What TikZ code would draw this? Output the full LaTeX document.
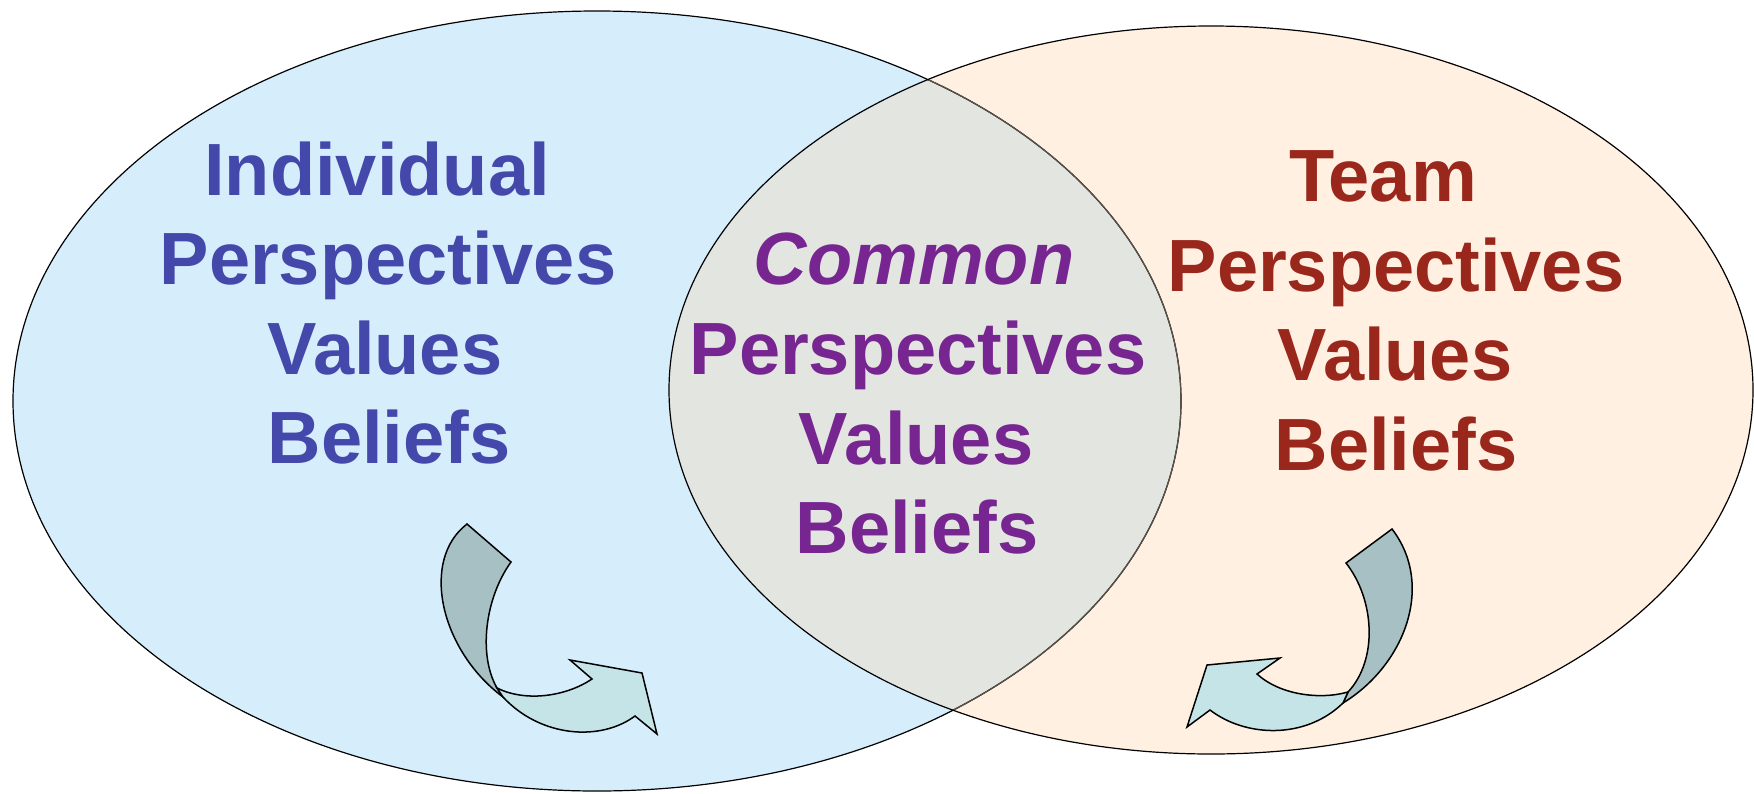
\documentclass[tikz,border=0pt]{standalone}
\usepackage{fontspec}
\setmainfont{Liberation Sans}
\definecolor{leftfill}{RGB}{214,238,252}
\definecolor{rightfill}{RGB}{255,240,226}
\definecolor{midfill}{RGB}{227,229,225}
\definecolor{dimline}{RGB}{90,82,72}
\definecolor{bluetext}{RGB}{68,72,170}
\definecolor{purpletext}{RGB}{119,37,144}
\definecolor{redtext}{RGB}{154,39,28}
\definecolor{arrowdark}{RGB}{167,192,196}
\definecolor{arrowlight}{RGB}{197,228,232}
\begin{document}
\begin{tikzpicture}[x=1pt,y=-1pt,
  lbl/.style={anchor=base,inner sep=0pt,font=\fontsize{74}{89}\selectfont\bfseries},
  ring/.style={draw=black,line width=1.2pt},
  arrowback/.style={draw=black,line width=1.5pt,fill=arrowdark,line join=miter},
  arrowfront/.style={draw=black,line width=1.5pt,fill=arrowlight,line join=miter}]
\useasboundingbox (0,0) rectangle (1754,793);
\fill[white] (0,0) rectangle (1754,793);
% ellipses
\fill[leftfill] (597,401) ellipse [x radius=584pt, y radius=390pt];
\fill[rightfill] (1211,390) ellipse [x radius=542pt, y radius=364pt];
\begin{scope}
  \clip (597,401) ellipse [x radius=584pt, y radius=390pt];
  \fill[midfill] (1211,390) ellipse [x radius=542pt, y radius=364pt];
\end{scope}
\draw[ring] (597,401) ellipse [x radius=584pt, y radius=390pt];
\begin{scope}
  \clip (1211,390) ellipse [x radius=542pt, y radius=364pt];
  \draw[ring,draw=dimline] (597,401) ellipse [x radius=584pt, y radius=390pt];
\end{scope}
\draw[ring] (1211,390) ellipse [x radius=542pt, y radius=364pt];
% left texts
\node[lbl,text=bluetext] (l1) at (377,195) {Individual};
\node[lbl,text=bluetext] (l2) at (388,284) {Perspectives};
\node[lbl,text=bluetext] (l3) at (385,374) {Values};
\node[lbl,text=bluetext] (l4) at (389,463) {Beliefs};
% middle texts
\node[lbl,text=purpletext] (m1) at (914,284) {\itshape Common};
\node[lbl,text=purpletext] (m2) at (918,374) {Perspectives};
\node[lbl,text=purpletext] (m3) at (916,464) {Values};
\node[lbl,text=purpletext] (m4) at (917,553) {Beliefs};
% right texts
\node[lbl,text=redtext] (r1) at (1383,201) {Team};
\node[lbl,text=redtext] (r2) at (1396,291) {Perspectives};
\node[lbl,text=redtext] (r3) at (1395,380) {Values};
\node[lbl,text=redtext] (r4) at (1396,470) {Beliefs};
% left curved arrow
\draw[arrowback] (467,524) -- (511,562) .. controls (485,598) and (478,655) .. (497,688)
  -- (503,697) .. controls (440,650) and (420,560) .. (467,524) -- cycle;
\draw[arrowfront] (497,688) .. controls (525,702) and (565,697) .. (592,679)
  -- (570,660) -- (642,673) -- (657,734) -- (635,716)
  .. controls (600,742) and (540,737) .. (503,697) -- cycle;
% right curved arrow
\draw[arrowback] (1392,529) -- (1346,563) .. controls (1375,600) and (1378,660) .. (1348,692)
  -- (1343,703) .. controls (1405,665) and (1435,585) .. (1392,529) -- cycle;
\draw[arrowfront] (1348,692) .. controls (1320,700) and (1280,695) .. (1257,674)
  -- (1280,658) -- (1207,665) -- (1187,727) -- (1210,710)
  .. controls (1245,737) and (1305,740) .. (1343,703) -- cycle;
\end{tikzpicture}
\end{document}
